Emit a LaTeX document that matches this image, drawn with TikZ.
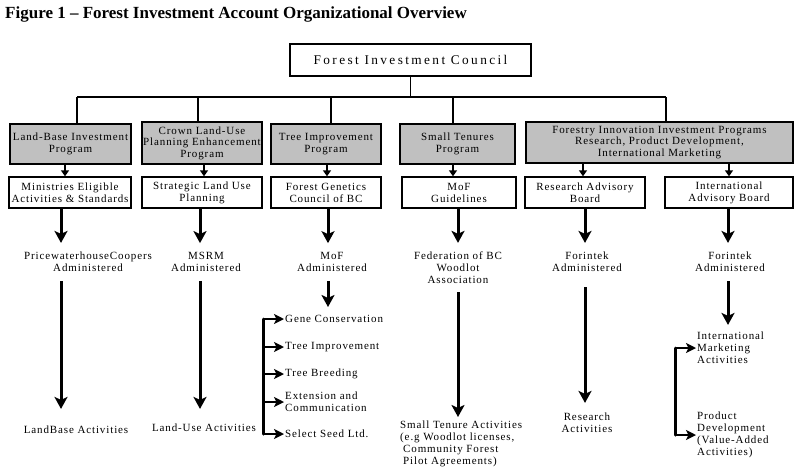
\documentclass[tikz,border=0pt]{standalone}
\usepackage{fontspec}
\setmainfont{Liberation Serif}
\newfontfamily\lsfont[LetterSpace=8]{Liberation Serif}
\newfontfamily\wsfont[LetterSpace=18]{Liberation Serif}
\usetikzlibrary{arrows.meta}
\definecolor{boxgray}{RGB}{192,192,192}
\begin{document}
\begin{tikzpicture}[x=1pt,y=-1pt,
  base/.style={inner sep=1pt, align=center, font=\lsfont\fontsize{11}{12}\selectfont},
  box/.style={base, draw, line width=1.4pt},
  gbox/.style={box, fill=boxgray},
  txt/.style={base},
  ltxt/.style={base, align=left},
  link/.style={line width=1.4pt},
  smallarr/.style={-{Triangle[length=6pt,width=8pt]}, line width=1.6pt},
  bigarr/.style={-{Stealth[length=12pt,width=13pt,inset=3pt]}, line width=3pt},
  brarr/.style={-{Stealth[length=10pt,width=10pt,inset=2.5pt]}, line width=2.4pt},
  brline/.style={line width=3pt, line cap=round, line join=round}]
\useasboundingbox (0,0) rectangle (800,472);
\fill[white] (0,0) rectangle (800,472);

% title
\node[inner sep=0pt, anchor=base west, font=\bfseries\fontsize{17}{20}\selectfont] (title) at (5,18)
  {Figure 1 – Forest Investment Account Organizational Overview};

% council
\node[box, minimum width=241pt, minimum height=32pt, font=\wsfont\fontsize{13.3}{15}\selectfont] (council) at (410.5,60) {Forest Investment Council};

% program boxes
\node[gbox, minimum width=121pt, minimum height=40pt] (g1) at (70.5,144) {Land-Base Investment\\Program};
\node[gbox, minimum width=120pt, minimum height=42pt, font=\lsfont\fontsize{11}{11.5}\selectfont] (g2) at (202,143) {Crown Land-Use\\Planning Enhancement\\Program};
\node[gbox, minimum width=110pt, minimum height=40pt] (g3) at (326,144) {Tree Improvement\\Program};
\node[gbox, minimum width=115pt, minimum height=40pt] (g4) at (457.5,144) {Small Tenures\\Program};
\node[gbox, minimum width=267pt, minimum height=41pt, font=\lsfont\fontsize{11}{11.5}\selectfont] (g5) at (659.5,142.5) {Forestry Innovation Investment Programs\\Research, Product Development,\\International Marketing};

% white boxes
\node[box, minimum width=122pt, minimum height=31pt] (w1) at (70,192.5) {Ministries Eligible\\Activities \& Standards};
\node[box, minimum width=120pt, minimum height=31pt] (w2) at (202,192.5) {Strategic Land Use\\Planning};
\node[box, minimum width=110pt, minimum height=31pt] (w3) at (326,192.5) {Forest Genetics\\Council of BC};
\node[box, minimum width=114pt, minimum height=31pt] (w4) at (459,192.5) {MoF\\Guidelines};
\node[box, minimum width=120pt, minimum height=31pt] (w5) at (585,192.5) {Research Advisory\\Board};
\node[box, minimum width=128pt, minimum height=31pt] (w6) at (729,192.5) {International\\Advisory Board};

% administered texts
\node[txt] (t1) at (88,262) {PricewaterhouseCoopers\\Administered};
\node[txt] (t2) at (206,262) {MSRM\\Administered};
\node[txt] (t3) at (332,262) {MoF\\Administered};
\node[txt] (t4) at (458,268) {Federation of BC\\Woodlot\\Association};
\node[txt] (t5) at (587,262) {Forintek\\Administered};
\node[txt] (t6) at (730,262) {Forintek\\Administered};

% bottom texts
\node[txt] (b1) at (76,430) {LandBase Activities};
\node[txt] (b2) at (204,428) {Land-Use Activities};
\node[ltxt, anchor=north west] (b4) at (399,420) {Small Tenure Activities\\(e.g Woodlot licenses,\\\hspace*{3pt}Community Forest\\\hspace*{3pt}Pilot Agreements)};
\node[txt] (b5) at (587,423) {Research\\Activities};

% tree improvement items
\node[ltxt, anchor=west] (gene) at (284,319) {Gene Conservation};
\node[ltxt, anchor=west] (timp) at (284,347) {Tree Improvement};
\node[ltxt, anchor=west] (tbr) at (284,374) {Tree Breeding};
\node[ltxt, anchor=west] (ext) at (284,402) {Extension and\\Communication};
\node[ltxt, anchor=west] (seed) at (284,434) {Select Seed Ltd.};

% marketing items
\node[ltxt, anchor=west] (im) at (696,348) {International\\Marketing\\Activities};
\node[ltxt, anchor=west] (pd) at (696,435) {Product\\Development\\(Value-Added\\Activities)};

% coordinates
\coordinate (d1) at (77,97);
\coordinate (d2) at (198,97);
\coordinate (d3) at (331,97);
\coordinate (d4) at (453,97);
\coordinate (d5) at (666,97);
\coordinate (s1) at (65,0);
\coordinate (s2) at (204,0);
\coordinate (s3) at (327,0);
\coordinate (s4) at (453,0);
\coordinate (s5) at (583,0);
\coordinate (s6) at (729,0);
\coordinate (k1) at (61,0);
\coordinate (k2) at (200,0);
\coordinate (k3) at (328,0);
\coordinate (k4) at (458,0);
\coordinate (k5) at (585,0);
\coordinate (k6) at (728,0);
\coordinate (m3) at (328,307);
\coordinate (brx) at (263,0);
\coordinate (bry) at (675,0);

% org links
\draw[link] (council.south) -- (council.south |- d1);
\draw[link] (d1) -- (d5);
\foreach \d/\g in {d1/g1,d2/g2,d3/g3,d4/g4,d5/g5}
  \draw[link] (\d) -- (\d |- \g.north);

% small arrows
\draw[smallarr] (g1.south -| s1) -- (w1.north -| s1);
\draw[smallarr] (g2.south -| s2) -- (w2.north -| s2);
\draw[smallarr] (g3.south -| s3) -- (w3.north -| s3);
\draw[smallarr] (g4.south -| s4) -- (w4.north -| s4);
\draw[smallarr] (g5.south -| s5) -- (w5.north -| s5);
\draw[smallarr] (g5.south -| s6) -- (w6.north -| s6);

% big arrows from white boxes
\draw[bigarr, shorten >=8pt] (w1.south -| k1) -- (t1.north -| k1);
\draw[bigarr, shorten >=8pt] (w2.south -| k2) -- (t2.north -| k2);
\draw[bigarr, shorten >=8pt] (w3.south -| k3) -- (t3.north -| k3);
\draw[bigarr, shorten >=8pt] (w4.south -| k4) -- (t4.north -| k4);
\draw[bigarr, shorten >=8pt] (w5.south -| k5) -- (t5.north -| k5);
\draw[bigarr, shorten >=8pt] (w6.south -| k6) -- (t6.north -| k6);

% long arrows
\draw[bigarr, shorten <=8pt, shorten >=16pt] (t1.south -| k1) -- (b1.north -| k1);
\draw[bigarr, shorten <=8pt, shorten >=14pt] (t2.south -| k2) -- (b2.north -| k2);
\draw[bigarr, shorten <=8pt] (t3.south -| k3) -- (m3);
\draw[bigarr, shorten <=7pt, shorten >=3pt] (t4.south -| k4) -- (b4.north -| k4);
\draw[bigarr, shorten <=14pt, shorten >=9pt] (t5.south -| k5) -- (b5.north -| k5);
\draw[bigarr, shorten <=8pt, shorten >=6pt] (t6.south -| k6) -- (im.north -| k6);

% bracket (tree improvement)
\draw[brline] (gene.west -| brx) -- (seed.west -| brx);
\foreach \n in {gene,timp,tbr,ext,seed}
  \draw[brarr] (\n.west -| brx) -- (\n.west);

% bracket (marketing)
\draw[brline] (im.west -| bry) -- (pd.west -| bry);
\foreach \n in {im,pd}
  \draw[brarr] (\n.west -| bry) -- (\n.west);
\end{tikzpicture}
\end{document}
